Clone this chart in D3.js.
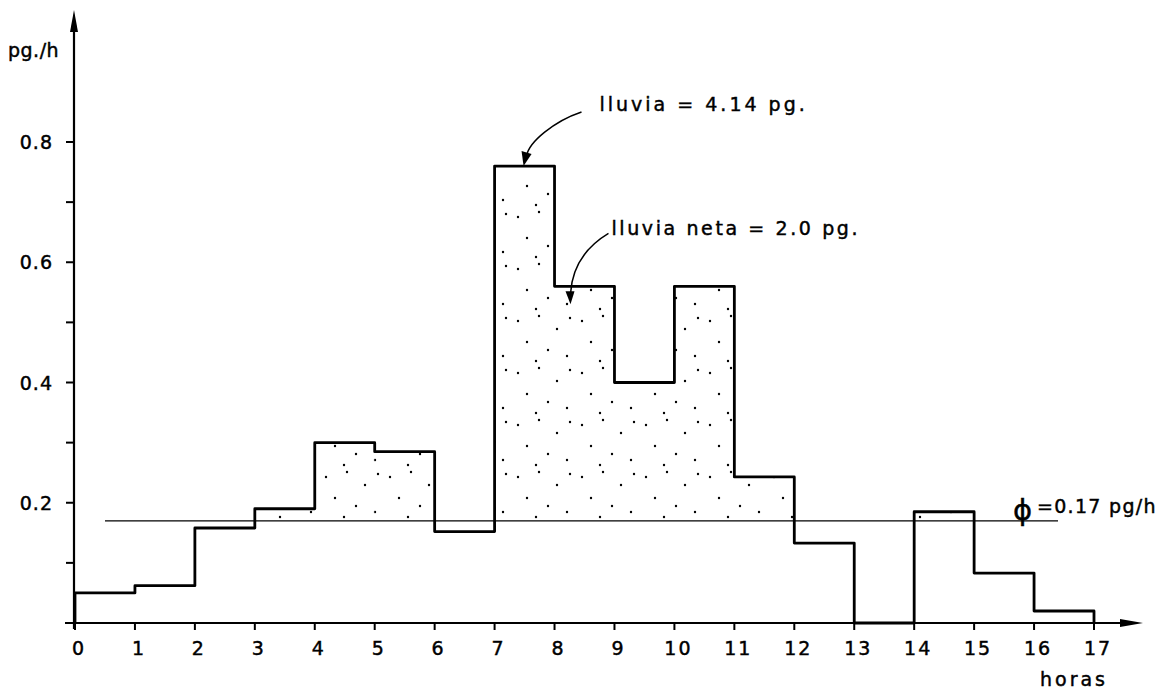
<!DOCTYPE html>
<html>
<head>
<meta charset="utf-8">
<script src="https://cdn.jsdelivr.net/npm/d3@7"></script>
<style>
  html, body { margin: 0; padding: 0; background: #fff; }
  svg { display: block; }
  text { font-family: "DejaVu Sans", sans-serif; fill: #000; stroke: #000; stroke-width: 0.45px; }
</style>
</head>
<body>
<svg id="chart" width="1172" height="689"></svg>
<script>
// ---- data ----
const hours = [0,1,2,3,4,5,6,7,8,9,10,11,12,13,14,15,16];
const intensity = [0.05,0.062,0.158,0.19,0.30,0.285,0.152,0.76,0.56,0.40,0.56,0.243,0.133,0,0.185,0.083,0.02];
const xTicks = [0,1,2,3,4,5,6,7,8,9,10,11,12,13,14,15,16,17];
const yTicks = [0.1,0.2,0.3,0.4,0.5,0.6,0.7,0.8];
const yLabels = [0.2,0.4,0.6,0.8];
const phi = 0.17;
const phiRange = [0.5, 16.4];
const yUnit = "pg./h";
const xUnit = "horas";
const phiLabel = "=0.17 pg/h";
const note1 = "lluvia = 4.14 pg.";
const note2 = "lluvia neta = 2.0 pg.";

const svg = d3.select("#chart");
const x = d3.scaleLinear().domain([0,17]).range([75,1094]);
const y = d3.scaleLinear().domain([0,0.8]).range([623,142]);

// stipple pattern
const defs = svg.append("defs");
const pat = defs.append("pattern").attr("id","stip").attr("patternUnits","userSpaceOnUse")
  .attr("width",64).attr("height",52);
[[6,9],[27,4],[45,17],[15,30],[36,38],[55,44],[58,6],[24,49]].forEach(p=>{
  pat.append("circle").attr("cx",p[0]).attr("cy",p[1]).attr("r",1.2).attr("fill","#000");
});

// stippled net rainfall
svg.append("g").selectAll("rect")
  .data(hours.filter(h => intensity[h] > phi))
  .join("rect")
  .attr("x", h => x(h)).attr("width", h => x(h+1)-x(h))
  .attr("y", h => y(intensity[h])).attr("height", h => y(phi)-y(intensity[h]))
  .attr("fill","url(#stip)");

// phi line
svg.append("line")
  .attr("x1", x(phiRange[0])).attr("x2", x(phiRange[1]))
  .attr("y1", y(phi)).attr("y2", y(phi))
  .attr("stroke","#000").attr("stroke-width",1.3);

// axes
const ax = svg.append("g").attr("stroke","#000").attr("fill","none");
ax.append("line").attr("x1",x(0)-1).attr("x2",x(0)-1).attr("y1",y(0)+6).attr("y2",22).attr("stroke-width",2.2);
ax.append("path").attr("d",`M${x(0)-1},10 L${x(0)-5},32 L${x(0)+3},32 Z`).attr("fill","#000").attr("stroke","none");
ax.append("line").attr("x1",x(0)-10).attr("x2",1130).attr("y1",y(0)).attr("y2",y(0)).attr("stroke-width",2.2);
ax.append("path").attr("d",`M1143,${y(0)} L1120,${y(0)-4} L1120,${y(0)+4} Z`).attr("fill","#000").attr("stroke","none");

// y ticks
ax.selectAll(".yt").data(yTicks).join("line")
  .attr("x1", x(0)-9).attr("x2", x(0)-1)
  .attr("y1", d=>y(d)).attr("y2", d=>y(d)).attr("stroke-width",2);
svg.append("g").selectAll("text").data(yLabels).join("text")
  .attr("x", 53).attr("y", d=>y(d)+7)
  .attr("text-anchor","end").attr("font-size",19).attr("letter-spacing",1)
  .text(d=>d.toFixed(1));

// x ticks
ax.selectAll(".xt").data(xTicks).join("line")
  .attr("x1", d=>x(d)).attr("x2", d=>x(d))
  .attr("y1", y(0)).attr("y2", y(0)+7).attr("stroke-width",2);
svg.append("g").selectAll("text").data(xTicks).join("text")
  .attr("x", d=>x(d)+4).attr("y", y(0)+32)
  .attr("text-anchor","middle").attr("font-size",19).attr("letter-spacing",2)
  .text(d=>d);

// hyetograph step line
const pts = [[0,0]].concat(hours.map(h=>[h,intensity[h]])).concat([[17,0]]);
svg.append("path").datum(pts)
  .attr("d", d3.line().x(d=>x(d[0])).y(d=>y(d[1])).curve(d3.curveStepAfter))
  .attr("fill","none").attr("stroke","#000").attr("stroke-width",2.8).attr("stroke-linejoin","round");

// unit labels
svg.append("text").attr("x",8).attr("y",57).attr("font-size",19).attr("letter-spacing",0.5).text(yUnit);
svg.append("text").attr("x",1040).attr("y",686).attr("font-size",19).attr("letter-spacing",3).text(xUnit);

// phi label
svg.append("text").attr("x",1013).attr("y",y(phi)-1).attr("font-size",29).attr("stroke-width",0.8).text("ϕ");
svg.append("text").attr("x",1037).attr("y",y(phi)-8).attr("font-size",19).attr("letter-spacing",1.3).text(phiLabel);

// annotations
const t1 = [x(7.5), y(0.76)];
svg.append("text").attr("x", x(8.75)).attr("y", y(0.852)).attr("font-size",19).attr("letter-spacing",3)
  .text(note1);
svg.append("path")
  .attr("d", `M${x(8.45)},${y(0.85)} C${x(8.0)},${y(0.835)} ${t1[0]+4},${y(0.80)} ${t1[0]+2},${t1[1]-10}`)
  .attr("fill","none").attr("stroke","#000").attr("stroke-width",1.5);
svg.append("path")
  .attr("d", `M${t1[0]-1},${t1[1]} L${t1[0]-3},${t1[1]-15} L${t1[0]+7},${t1[1]-12} Z`).attr("fill","#000");

const t2 = [x(8.25), y(0.53)];
svg.append("text").attr("x", x(8.95)).attr("y", y(0.645)).attr("font-size",19).attr("letter-spacing",2.6)
  .text(note2);
svg.append("path")
  .attr("d", `M${x(8.9)},${y(0.648)} C${x(8.6)},${y(0.63)} ${t2[0]+3},${y(0.60)} ${t2[0]+1},${t2[1]-11}`)
  .attr("fill","none").attr("stroke","#000").attr("stroke-width",1.5);
svg.append("path")
  .attr("d", `M${t2[0]+1},${t2[1]} L${t2[0]-4},${t2[1]-13} L${t2[0]+5},${t2[1]-13} Z`).attr("fill","#000");
</script>
</body>
</html>
